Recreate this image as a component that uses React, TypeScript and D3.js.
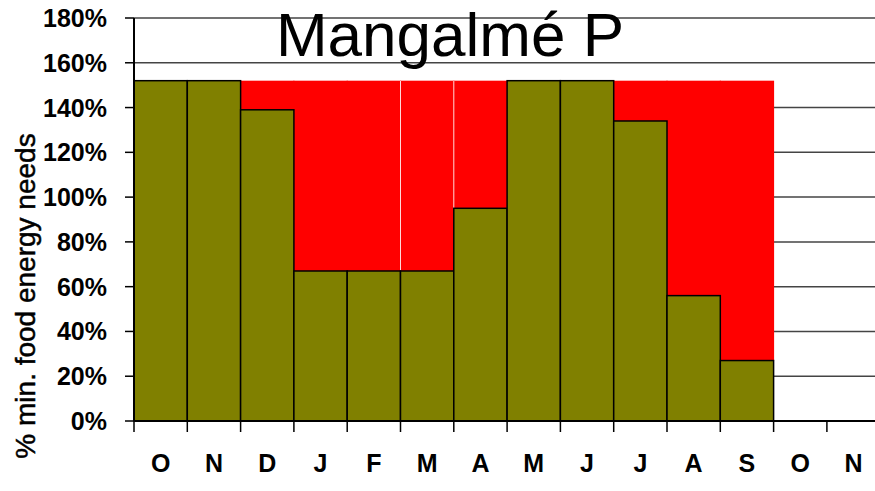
import React from "react";
import * as d3 from "d3";

const months = ["O", "N", "D", "J", "F", "M", "A", "M", "J", "J", "A", "S", "O", "N"];
// share of needs covered (olive) and the gap up to the target (red), in %
const covered = [152, 152, 139, 67, 67, 67, 95, 152, 152, 134, 56, 27, null, null];
const deficit = [0, 0, 13, 85, 85, 85, 57, 0, 0, 18, 96, 125, null, null];
// month indexes whose left edge shows a thin white seam inside the red
const redSeams = [5, 6];
const yTicks = [0, 20, 40, 60, 80, 100, 120, 140, 160, 180];

const W = 875;
const H = 491;
const left = 134;
const top = 18;
const bottom = 421;
const step = 53.3;

const App = () => {
  const x = d3
    .scaleBand<number>()
    .domain(months.map((_, i) => i))
    .range([left, left + months.length * step])
    .padding(0);
  const y = d3.scaleLinear().domain([0, 180]).range([bottom, top]);
  const font = "Arial, 'Liberation Sans', sans-serif";

  return (
    <svg width={W} height={H} style={{ position: "absolute", left: 0, top: 0, background: "#fff" }}>
      {/* gridlines */}
      {yTicks.filter(t => t > 0).map(t => (
        <line key={t} x1={left} x2={W} y1={y(t)} y2={y(t)} stroke="#444" strokeWidth={1.5} />
      ))}

      {/* red gap above the covered part */}
      {deficit.map((d, i) =>
        d && covered[i] != null ? (
          <rect
            key={"r" + i}
            x={x(i)! - 0.5}
            width={x.bandwidth() + 1}
            y={y(covered[i]! + d)}
            height={y(covered[i]!) - y(covered[i]! + d)}
            fill="#ff0000"
          />
        ) : null
      )}
      {redSeams.map(i => (
        <line
          key={"s" + i}
          x1={x(i)!}
          x2={x(i)!}
          y1={y(covered[i]! + deficit[i]!)}
          y2={y(covered[i]!)}
          stroke="#fff"
          strokeWidth={1}
          opacity={0.85}
        />
      ))}

      {/* olive covered part */}
      {covered.map((c, i) =>
        c != null ? (
          <rect
            key={"c" + i}
            x={x(i)!}
            width={x.bandwidth()}
            y={y(c)}
            height={y(0) - y(c)}
            fill="#808000"
            stroke="#000"
            strokeWidth={1.5}
          />
        ) : null
      )}

      {/* axes */}
      <line x1={left} x2={left} y1={top} y2={bottom} stroke="#000" strokeWidth={2} />
      <line x1={left} x2={W} y1={bottom} y2={bottom} stroke="#000" strokeWidth={2} />
      {yTicks.map(t => (
        <g key={"yt" + t}>
          <line x1={left - 9} x2={left} y1={y(t)} y2={y(t)} stroke="#000" strokeWidth={1.5} />
          <text
            x={107}
            y={y(t)}
            dy="0.36em"
            textAnchor="end"
            fontFamily={font}
            fontWeight="bold"
            fontSize={25}
            fill="#000"
          >
            {t}%
          </text>
        </g>
      ))}
      {months.map((m, i) => (
        <g key={"xt" + i}>
          <line x1={x(i)!} x2={x(i)!} y1={bottom} y2={bottom + 11} stroke="#000" strokeWidth={1.5} />
          <text
            x={x(i)! + x.bandwidth() / 2}
            y={472}
            textAnchor="middle"
            fontFamily={font}
            fontWeight="bold"
            fontSize={25}
            fill="#000"
          >
            {m}
          </text>
        </g>
      ))}

      {/* y-axis title */}
      <text
        transform="translate(35,296) rotate(-90)"
        textAnchor="middle"
        fontFamily={font}
        fontSize={28}
        fill="#000"
        stroke="#000"
        strokeWidth={0.5}
      >
        % min. food energy needs
      </text>

      {/* chart title */}
      <text x={450} y={56} textAnchor="middle" fontFamily={font} fontSize={62} fill="#000">
        Mangalmé P
      </text>
    </svg>
  );
};

export default App;
